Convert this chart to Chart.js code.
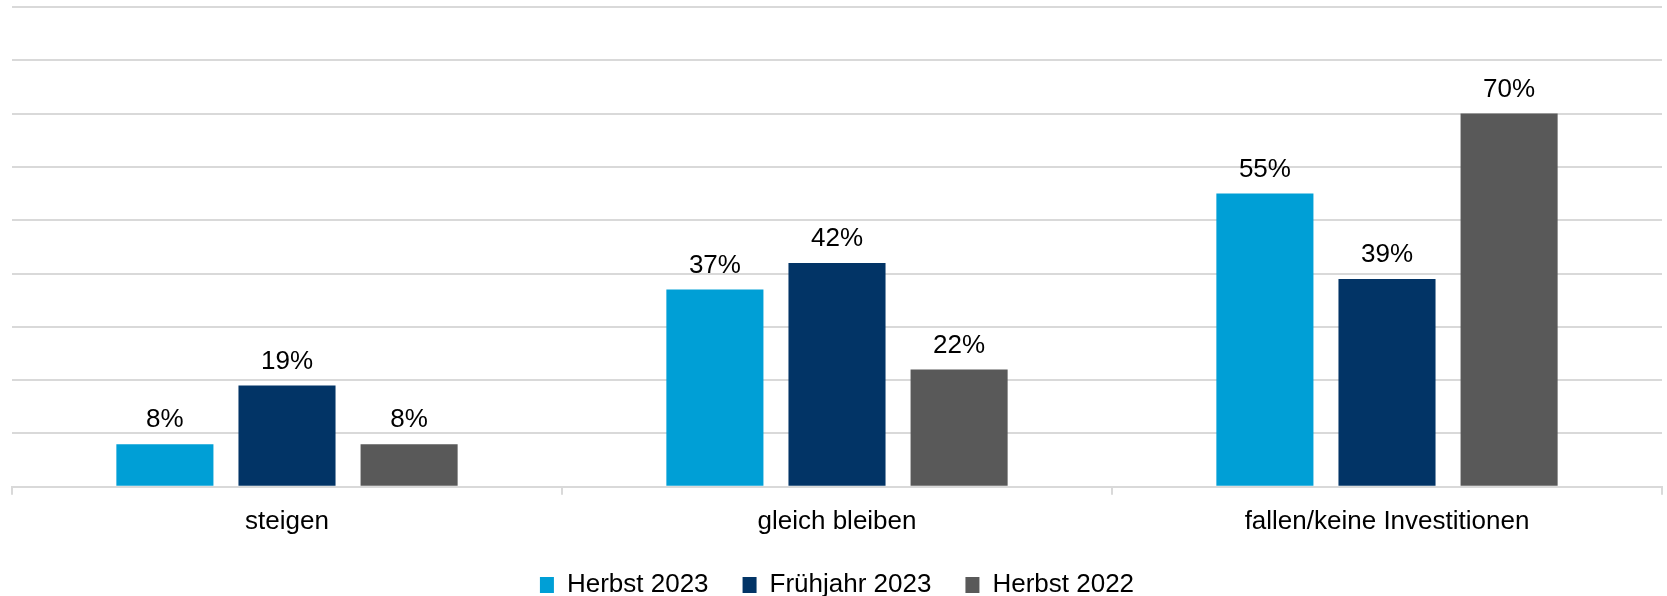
<!DOCTYPE html>
<html>
<head>
<meta charset="utf-8">
<script src="https://cdn.jsdelivr.net/npm/chart.js@4.4.1/dist/chart.umd.min.js"></script>
<style>
  html, body { margin: 0; padding: 0; background: #fff; }
  #wrap { width: 1667px; height: 596px; }
</style>
</head>
<body>
<div id="wrap"><canvas id="chart"></canvas></div>
<script>
const categories = ["steigen", "gleich bleiben", "fallen/keine Investitionen"];
const herbst2023 = [8, 37, 55];
const fruehjahr2023 = [19, 42, 39];
const herbst2022 = [8, 22, 70];
const yTicks = [0, 10, 20, 30, 40, 50, 60, 70, 80, 90];

const font = "'Liberation Sans', Arial, sans-serif";

// draws the % values above each bar
const valueLabels = {
  id: "valueLabels",
  afterDatasetsDraw(chart) {
    const c = chart.ctx;
    c.save();
    c.font = "26px " + font;
    c.fillStyle = "#000";
    c.textAlign = "center";
    c.textBaseline = "middle";
    chart.data.datasets.forEach((ds, i) => {
      chart.getDatasetMeta(i).data.forEach((bar, j) => {
        c.fillText(ds.data[j] + "%", bar.x, bar.y - 24);
      });
    });
    c.restore();
  }
};

// legend sits lower, closer to the bottom edge
const tightLegend = {
  id: "tightLegend",
  beforeInit(chart) {
    const fit = chart.legend.fit;
    chart.legend.fit = function () {
      fit.call(this);
      this.height -= 12;
    };
  }
};

new Chart(document.getElementById("chart"), {
  type: "bar",
  data: {
    labels: categories,
    datasets: [
      { label: "Herbst 2023", data: herbst2023, backgroundColor: "#009fd6", borderWidth: 0 },
      { label: "Frühjahr 2023", data: fruehjahr2023, backgroundColor: "#023466", borderWidth: 0 },
      { label: "Herbst 2022", data: herbst2022, backgroundColor: "#595959", borderWidth: 0 },
    ],
  },
  options: {
    responsive: true,
    maintainAspectRatio: false,
    animation: false,
    categoryPercentage: 0.666,
    barPercentage: 0.795,
    layout: { padding: { left: 12, right: 5, top: 7, bottom: 0 } },
    scales: {
      x: {
        grid: { display: true, drawOnChartArea: false, offset: true, color: "#d9d9d9", lineWidth: 2, tickLength: 8 },
        border: { color: "#d9d9d9", width: 2 },
        ticks: { color: "#000", font: { family: font, size: 26 }, padding: 11 },
        afterFit: (scale) => { scale.height -= 10; },
      },
      y: {
        min: 0,
        max: 90,
        afterBuildTicks: (axis) => { axis.ticks = yTicks.map(v => ({ value: v })); },
        ticks: { display: false },
        grid: { color: "#d9d9d9", lineWidth: 2, drawTicks: false },
        border: { display: false },
      },
    },
    plugins: {
      legend: {
        position: "bottom",
        labels: {
          color: "#000",
          font: { family: font, size: 26 },
          boxWidth: 14,
          boxHeight: 16,
          padding: 34,
        },
      },
      tooltip: { enabled: false },
    },
  },
  plugins: [valueLabels, tightLegend],
});
</script>
</body>
</html>
